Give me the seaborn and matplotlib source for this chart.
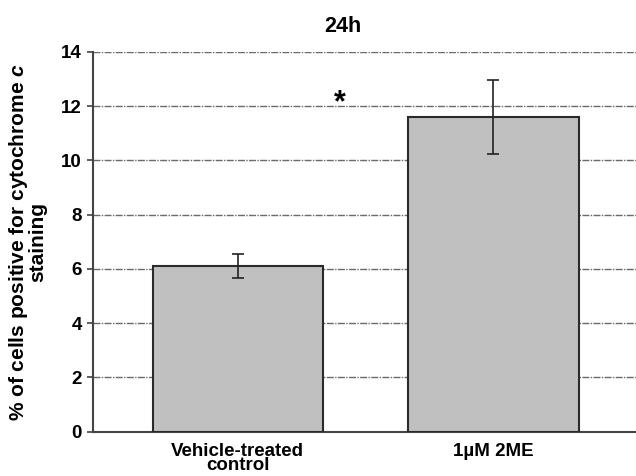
import matplotlib
matplotlib.use("Agg")
import matplotlib.pyplot as plt
import seaborn as sns
import pandas as pd

# Data
categories = ["Vehicle-treated\ncontrol", "1\u00b5M 2ME"]
means = [6.1, 11.6]
errors = [0.45, 1.35]
yticks = [0, 2, 4, 6, 8, 10, 12, 14]

sns.set_theme(style="white")
plt.rcParams["font.family"] = ["Liberation Sans", "DejaVu Sans"]
plt.rcParams["font.weight"] = "bold"
plt.rcParams["text.color"] = "black"
plt.rcParams["axes.labelcolor"] = "black"
plt.rcParams["xtick.color"] = "black"
plt.rcParams["ytick.color"] = "black"
plt.rcParams["mathtext.fontset"] = "custom"
plt.rcParams["mathtext.it"] = "Liberation Sans:italic:bold"
plt.rcParams["mathtext.rm"] = "Liberation Sans:bold"

df = pd.DataFrame({"group": categories, "pct": means})

fig = plt.figure(figsize=(6.36, 4.76), dpi=100)
ax = fig.add_axes([0.146, 0.093, 0.854, 0.798])

sns.barplot(data=df, x="group", y="pct", color="#c0c0c0", saturation=1,
            edgecolor="#2a2a2a", linewidth=1.5, width=0.665, ax=ax, zorder=3)
ax.errorbar(x=range(len(means)), y=means, yerr=errors, fmt="none",
            ecolor="#222222", elinewidth=1.2, capsize=4, capthick=1.2, zorder=4)

ax.set_ylim(0, 14)
ax.set_xlim(-0.566, 1.557)
ax.set_yticks(yticks)
ax.set_yticklabels([str(t) for t in yticks], fontsize=13.5, fontweight="bold")
ax.set_xticks(range(len(categories)))
ax.set_xticklabels(categories, fontsize=13.5, fontweight="bold", linespacing=0.78)

ax.yaxis.grid(True, color="#6a6a6a", linewidth=1.0,
              linestyle=(0, (5, 1, 1, 1)), zorder=0)
ax.set_axisbelow(True)

for side in ("top", "right"):
    ax.spines[side].set_visible(False)
for side in ("left", "bottom"):
    ax.spines[side].set_color("#444444")
    ax.spines[side].set_linewidth(1.5)

ax.tick_params(axis="y", which="major", direction="out", length=4, width=1.2,
               color="#444444", left=True, pad=4)
ax.tick_params(axis="x", length=0, pad=8)

ax.set_xlabel("")
ax.set_ylabel("% of cells positive for cytochrome $\\it{c}$\nstaining",
              fontsize=15, fontweight="bold", linespacing=0.9, labelpad=10)

ax.set_title("24h", fontsize=15.5, fontweight="bold", pad=14, x=0.46)
ax.text(0.4, 12.1, "*", fontsize=22, fontweight="bold", ha="center", va="center")

fig.savefig("out.png", dpi=100)
